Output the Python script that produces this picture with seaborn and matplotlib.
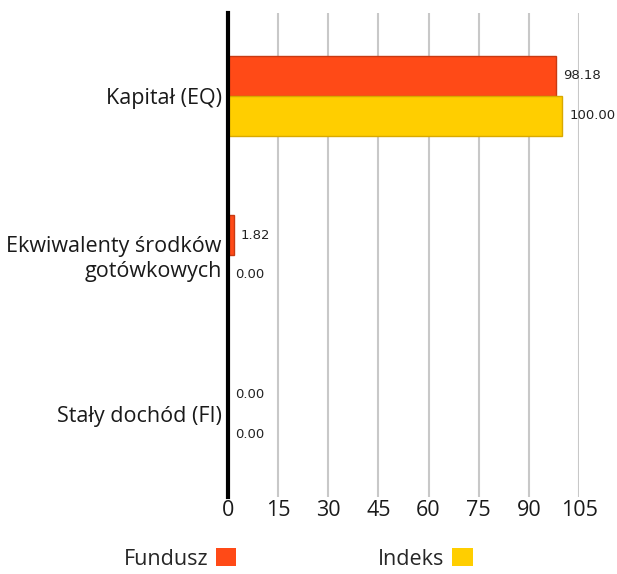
import pandas as pd
import matplotlib
matplotlib.use("Agg")
import matplotlib.pyplot as plt
import seaborn as sns
from matplotlib.patches import Patch

# dane
categories = ['Kapitał (EQ)', 'Ekwiwalenty środków\ngotówkowych', 'Stały dochód (FI)']
fundusz = [98.18, 1.82, 0.00]
indeks = [100.00, 0.00, 0.00]
series_names = ['Fundusz', 'Indeks']
xticks = [0, 15, 30, 45, 60, 75, 90, 105]

df = pd.DataFrame({
    'kategoria': categories * 2,
    'wartosc': fundusz + indeks,
    'seria': [series_names[0]] * 3 + [series_names[1]] * 3,
})

colors = {'Fundusz': '#ff4a17', 'Indeks': '#ffce00'}
edges = {'Fundusz': '#c83a12', 'Indeks': '#d9a900'}

sns.set_style("white")
plt.rcParams['font.family'] = ['Open Sans', 'DejaVu Sans']

fig = plt.figure(figsize=(6.17, 5.74), dpi=100)
ax = fig.add_axes([0.3695, 0.1341, 0.5689, 0.8433])

sns.barplot(ax=ax, data=df, x='wartosc', y='kategoria', hue='seria',
            orient='h', palette=colors, width=0.5, saturation=1, legend=False)

for cont, name in zip(ax.containers, series_names):
    for bar in cont:
        bar.set_edgecolor(edges[name])
        bar.set_linewidth(1)
    ax.bar_label(cont, fmt='%.2f', padding=5, fontsize=9.5,
                 family='DejaVu Sans', color='#222222')

ax.set_xlim(0, 105)
ax.set_ylim(2.52, -0.52)
ax.set_xticks(xticks)
ax.xaxis.grid(True, color='#c8c8c8', linewidth=1.5)
ax.set_axisbelow(True)
for s in ['top', 'right', 'bottom']:
    ax.spines[s].set_visible(False)
ax.spines['left'].set_color('black')
ax.spines['left'].set_linewidth(3)
ax.spines['left'].set_zorder(5)
ax.tick_params(axis='both', length=0, colors='#1a1a1a')
ax.tick_params(axis='x', pad=2, labelsize=15.5)
ax.tick_params(axis='y', pad=4.5, labelsize=15.5)
for t in ax.get_yticklabels():
    t.set_linespacing(1.25)
ax.set_xlabel('')
ax.set_ylabel('')

handles = [Patch(facecolor=colors[n], edgecolor='none') for n in series_names]
fig.legend(handles, series_names, loc='lower center', bbox_to_anchor=(0.483, -0.026),
           ncol=2, frameon=False, markerfirst=False, fontsize=15.5,
           handlelength=0.95, handleheight=0.95, handletextpad=0.35,
           columnspacing=6.6)

fig.savefig('out.png', dpi=100)
